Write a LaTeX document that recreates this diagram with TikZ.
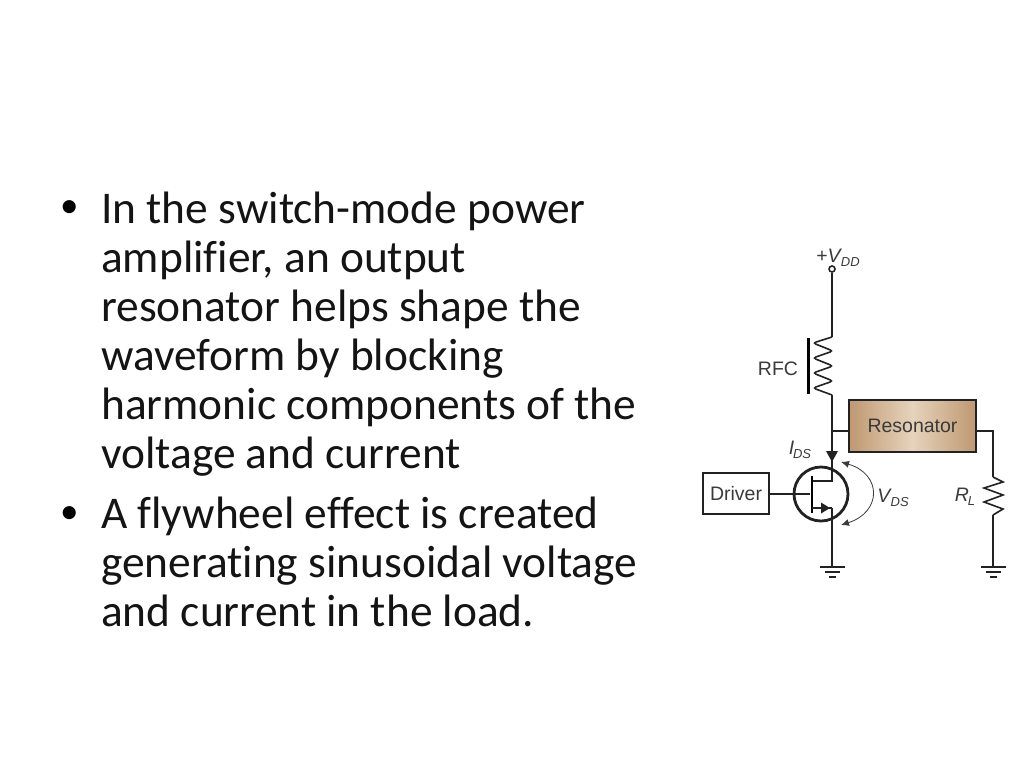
\documentclass[tikz,border=0pt]{standalone}
\usepackage{fontspec}
\setmainfont[Ligatures=NoCommon]{Carlito}
\newfontfamily\labelfont{Liberation Sans}
\usetikzlibrary{arrows.meta,positioning}
\definecolor{inktext}{HTML}{141414}
\definecolor{inklabel}{HTML}{3A3A3A}
\definecolor{inkwire}{HTML}{222222}
\definecolor{resedge}{HTML}{BE9870}
\definecolor{resmid}{HTML}{E6D3BC}
\newcommand{\sublabel}[2]{\textit{#1}\kern-1.2pt\raisebox{-0.4ex}{\fontsize{13}{14}\selectfont\textit{#2}}}
\begin{document}
\begin{tikzpicture}[
    x=1pt, y=-1pt,
    wire/.style={draw=inkwire, line width=1.6pt},
    heavy/.style={draw=inkwire, line width=2.3pt},
    box/.style={rectangle, draw=inkwire, line width=2.4pt, inner sep=0pt},
    lbl/.style={font=\labelfont\fontsize{19.5}{22}\selectfont, text=inklabel, inner sep=0pt},
    bullet/.style={font=\fontsize{45.4}{49}\selectfont, text=inktext, align=left, anchor=north west, inner sep=0pt},
    dotmark/.style={font=\fontsize{37}{37}\selectfont, text=black, anchor=base west, inner sep=0pt},
    groundbar/.style={draw=inkwire, line width=2pt}
]
\useasboundingbox (0,0) rectangle (1024,768);

% Slide text
\node[dotmark] (dot_one) at (60,217.5) {•};
\node[bullet] (text_one) at (101,192) {In the switch-mode power\\amplifier, an output\\resonator helps shape the\\waveform by blocking\\harmonic components of the\\voltage and current};
\node[dotmark] (dot_two) at (60,523) {•};
\node[bullet] (text_two) at (101,497) {A flywheel effect is created\\generating sinusoidal voltage\\and current in the load.};

% Boxes and transistor
\node[box, minimum width=66, minimum height=41, font=\labelfont\fontsize{19.5}{22}\selectfont, text=inklabel] (driver) at (736,493.5) {Driver};
\node[box, minimum width=127, minimum height=52, font=\labelfont\fontsize{19.5}{22}\selectfont, text=inklabel, left color=resedge, right color=resedge, middle color=resmid] (resonator) at (912.5,426) {Resonator};
\node[circle, draw=inkwire, line width=2.8pt, minimum size=54, inner sep=0pt] (fet) at (821,494) {};
\node[circle, draw=inkwire, line width=1.6pt, minimum size=6, inner sep=0pt, fill=white] (vdd) at (832,269) {};

% Wire points
\coordinate (coil_top) at (832,337);
\coordinate (coil_bot) at (832,395);
\coordinate (junction) at (832,431);
\coordinate (drain) at (832,481);
\coordinate (source) at (832,508);
\coordinate (gate) at (810,494);
\coordinate (gnd_fet) at (832,567);
\coordinate (corner_rl) at (993,431);
\coordinate (res_top) at (993,477);
\coordinate (res_bot) at (993,515);
\coordinate (gnd_rl) at (993,567);

% Supply branch
\draw[wire] (vdd) -- (coil_top);
\draw[wire, rounded corners=3pt] (coil_top) -- (813,343) -- (833,351) -- (813,358) -- (833,366) -- (813,373) -- (833,381) -- (813,388) -- (coil_bot);
\draw[draw=black, line width=3pt] (808,338) -- (808,394);
\draw[wire] (coil_bot) -- (junction) -- (drain) -- (812,481);
\draw[wire] (junction) -- (resonator.west |- junction);
\fill[inkwire] (826,451) -- (838,451) -- (832,462) -- cycle;

% Transistor
\draw[heavy] (driver.east |- gate) -- (gate);
\draw[draw=black, line width=2.6pt] (812,476) -- (812,513);
\draw[heavy] (812,508) -- (source);
\fill[inkwire] (821,502.5) -- (830,508) -- (821,513.5) -- cycle;
\draw[heavy] (source) -- (gnd_fet);

% Load branch
\draw[wire] (resonator.east |- corner_rl) -- (corner_rl) -- (res_top);
\draw[wire] (res_top) -- (1003,482) -- (984,488) -- (1003,495) -- (984,502) -- (1003,509) -- (res_bot);
\draw[wire] (res_bot) -- (gnd_rl);

% Grounds
\draw[groundbar] (820,567) -- (845,567);
\draw[groundbar] (825,572) -- (840,572);
\draw[groundbar] (829,576.5) -- (836,576.5);
\draw[groundbar] (981,567) -- (1006,567);
\draw[groundbar] (986,572) -- (1001,572);
\draw[groundbar] (990,576.5) -- (997,576.5);

% Voltage arc
\draw[draw=inklabel, line width=0.8pt, {Latex[length=8pt,width=7pt]}-{Latex[length=8pt,width=7pt]}] (841,462) .. controls (882,474) and (882,512) .. (841,525);

% Labels
\node[lbl] (vdd_label) at (838,258) {+\sublabel{V}{DD}};
\node[lbl] (rfc_label) at (778,369) {RFC};
\node[lbl] (ids_label) at (800,450) {\sublabel{I}{DS}};
\node[lbl] (vds_label) at (893,498) {\sublabel{V}{DS}};
\node[lbl] (rl_label) at (965,497) {\sublabel{R}{L}};
\end{tikzpicture}
\end{document}
